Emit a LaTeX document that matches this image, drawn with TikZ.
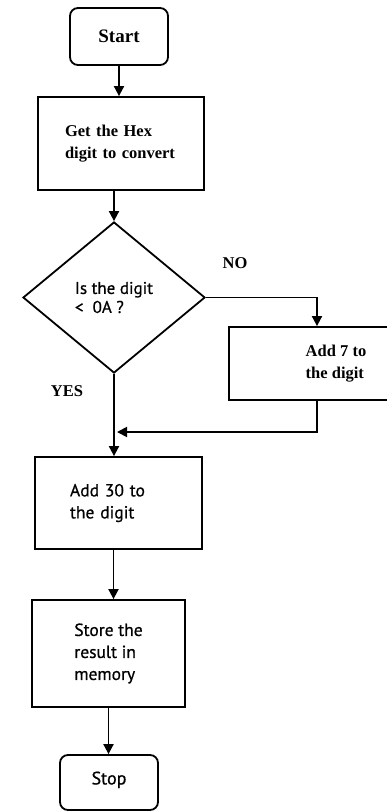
\documentclass[tikz,border=0pt]{standalone}
\usepackage{fontspec}
\setmainfont{Liberation Serif}
\newfontfamily\gillfont[FakeBold=0.7]{PT Sans}
\usetikzlibrary{shapes.geometric,arrows.meta}
\tikzset{
  flowline/.style={line width=1.8pt},
  flowarrow/.style={flowline,-{Triangle[length=10pt,width=10pt]}},
  termbox/.style={draw,flowline,rounded corners=8pt,inner sep=0pt},
  procbox/.style={draw,flowline,inner sep=0pt,align=left},
  decbox/.style={draw,flowline,diamond,inner sep=0pt,align=left},
  seriftext/.style={font=\bfseries\fontsize{16.5}{22}\selectfont},
  sanstext/.style={font=\gillfont\fontsize{17.5}{22}\selectfont},
}

\begin{document}
\begin{tikzpicture}[x=1pt,y=-1pt]
		% 0. page frame
		\useasboundingbox (0,0) rectangle (387,811);
		
		% 1. start terminal and input box
		\node[termbox, minimum width=98pt, minimum height=57pt, font=\bfseries\fontsize{19}{24}\selectfont] (start) at (119,36.5) {Start};
		\node[procbox, seriftext, minimum width=166pt, minimum height=93pt, text width=112pt, inner xsep=27pt] (get) at (121,143.5) {Get the Hex\\digit to convert};
		
		% 2. decision diamond
		\node[decbox, font=\gillfont\fontsize{17}{19}\selectfont, minimum width=182pt, minimum height=151pt] (dec) at (114,297.5) {Is the digit\\<~ 0A ?};
		\node[seriftext] (no) at (235,263) {NO};
		\node[seriftext] (yes) at (67,391) {YES};
		
		% 3. NO branch box (runs off the right edge)
		\node[procbox, seriftext, minimum width=214pt, minimum height=73pt] (add7) at (336,363.5) {Add 7 to\\the digit};
		\coordinate (in7) at ([xshift=-19pt]add7.north);
		\coordinate (join) at (117,432);
		
		% 4. lower boxes
		\node[procbox, sanstext, minimum width=167pt, minimum height=92pt, text width=97pt, inner xsep=35pt] (add30) at (118.5,503) {Add 30 to\\the digit};
		\node[procbox, sanstext, minimum width=153pt, minimum height=107pt] (store) at (108.5,653.5) {Store the\\result in\\memory};
		\node[termbox, font=\gillfont\fontsize{18}{22}\selectfont, minimum width=98pt, minimum height=55pt, text depth=9pt] (stop) at (109,782.5) {Stop};
		
		% 5. connectors
		\draw[flowarrow] (start.south) -- (start.south |- get.north);
		\draw[flowarrow] (get.south -| dec.north) -- (dec.north);
		\draw[flowarrow] (dec.east) -| (in7);
		\draw[flowarrow] (add7.south -| in7) |- (join);
		\draw[flowarrow] (dec.south) -- (dec.south |- add30.north);
		\draw[flowarrow] ([xshift=-5pt]add30.south) -- ([xshift=-5pt]add30.south |- store.north);
		\draw[flowarrow] (store.south) -- (store.south |- stop.north);
		
	\end{tikzpicture}
\end{document}
